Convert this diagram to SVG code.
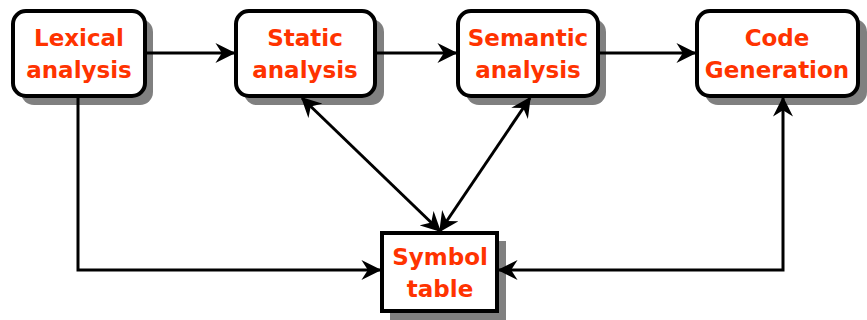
<svg xmlns="http://www.w3.org/2000/svg" width="867" height="320" viewBox="0 0 867 320">
<style>
.shadow{fill:#808080}
.box{fill:#fff;stroke:#000;stroke-width:4}
.lbl{font-family:"Comic Sans MS","DejaVu Sans",sans-serif;font-weight:bold;font-size:23px;fill:#ff3300;text-anchor:middle}
.conn{fill:none;stroke:#000;stroke-width:3}
</style>
<defs>
<marker id="a" viewBox="0 0 14 14" refX="13" refY="7" markerWidth="20" markerHeight="20" markerUnits="userSpaceOnUse" orient="auto-start-reverse">
<path d="M0,0 L14,7 L0,14 L4.5,7 Z" fill="#000"/>
</marker>
</defs>
<g id="lexical">
<rect class="shadow" x="21" y="19" width="132" height="86" rx="13"/>
<rect class="box" x="13" y="11" width="132" height="85" rx="13"/>
<text class="lbl" x="79" y="46">Lexical</text>
<text class="lbl" x="79" y="78">analysis</text>
</g>
<g id="static">
<rect class="shadow" x="244" y="19" width="140" height="86" rx="13"/>
<rect class="box" x="236" y="11" width="139" height="85" rx="13"/>
<text class="lbl" x="305" y="46">Static</text>
<text class="lbl" x="305" y="78">analysis</text>
</g>
<g id="semantic">
<rect class="shadow" x="466" y="19" width="140" height="86" rx="13"/>
<rect class="box" x="458" y="11" width="140" height="85" rx="13"/>
<text class="lbl" x="528" y="46">Semantic</text>
<text class="lbl" x="528" y="78">analysis</text>
</g>
<g id="codegen">
<rect class="shadow" x="705" y="19" width="162" height="86" rx="13"/>
<rect class="box" x="697" y="11" width="161" height="85" rx="13"/>
<text class="lbl" x="777" y="46">Code</text>
<text class="lbl" x="777" y="78">Generation</text>
</g>
<g id="symbol">
<rect class="shadow" x="390" y="241" width="116" height="79"/>
<rect class="box" x="382" y="233" width="115" height="78"/>
<text class="lbl" x="440" y="265">Symbol</text>
<text class="lbl" x="440" y="297">table</text>
</g>
<g id="connectors">
<line class="conn" x1="146" y1="53" x2="234" y2="53" marker-end="url(#a)"/>
<line class="conn" x1="376" y1="53" x2="456" y2="53" marker-end="url(#a)"/>
<line class="conn" x1="599" y1="53" x2="695" y2="53" marker-end="url(#a)"/>
<polyline class="conn" points="78,98 78,270 380,270" marker-end="url(#a)"/>
<polyline class="conn" points="783,98 783,270 499,270" marker-start="url(#a)" marker-end="url(#a)"/>
<line class="conn" x1="302" y1="98" x2="440" y2="231" marker-start="url(#a)" marker-end="url(#a)"/>
<line class="conn" x1="530" y1="98" x2="440" y2="231" marker-start="url(#a)" marker-end="url(#a)"/>
</g>
</svg>
